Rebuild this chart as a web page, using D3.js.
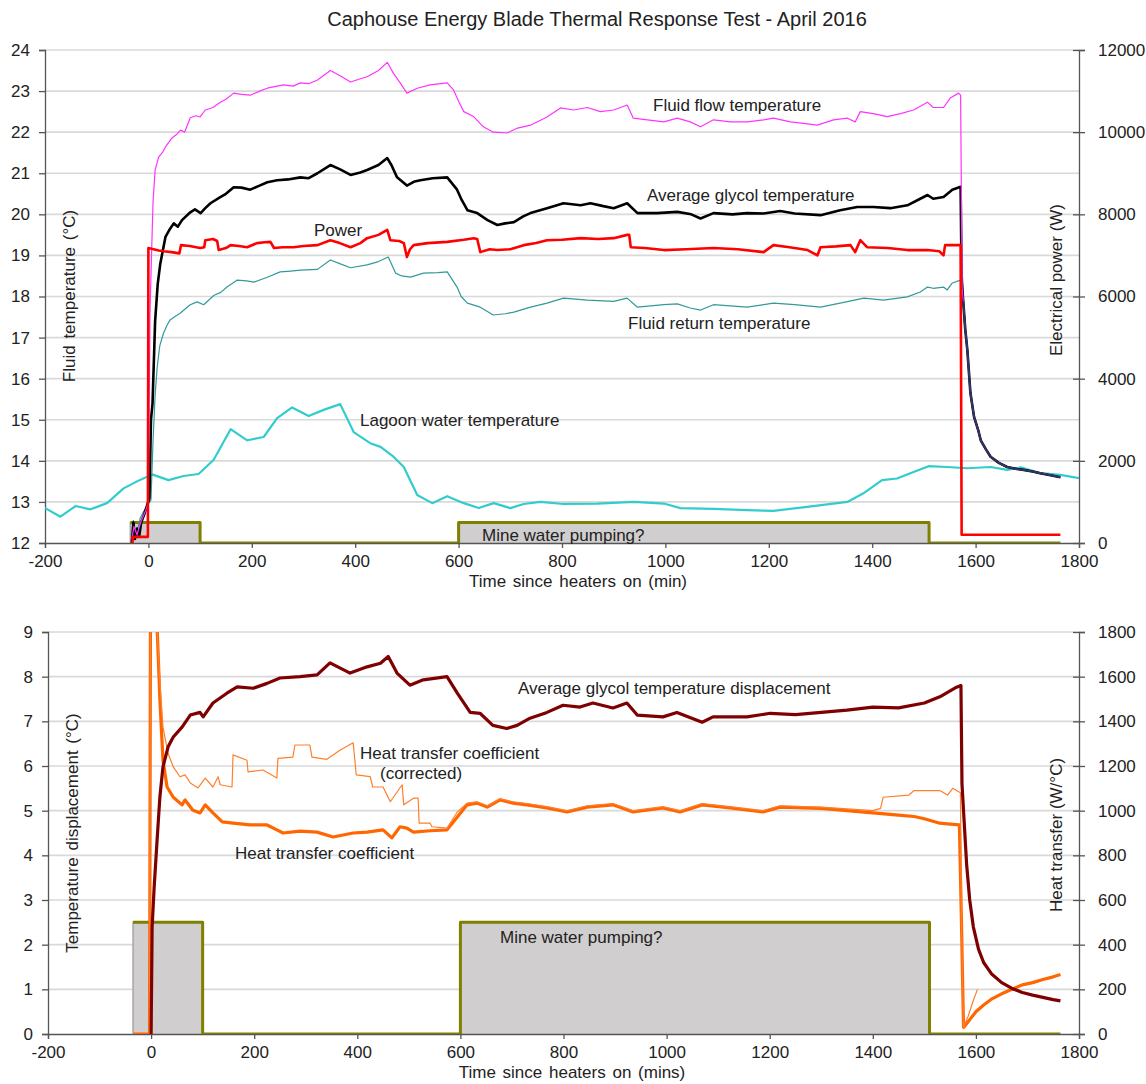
<!DOCTYPE html>
<html lang="en">
<head>
<meta charset="UTF-8">
<title>Caphouse Energy Blade Thermal Response Test</title>
<script src="https://cdn.jsdelivr.net/npm/d3@7/dist/d3.min.js"></script>
<style>
  body { margin: 0; background: #fff; }
  svg { font-family: "Liberation Sans", Arial, sans-serif; }
  .tick text { font-size: 17px; fill: #222; }
  .lbl { font-size: 17px; fill: #222; }
</style>
</head>
<body>
<svg id="chart" width="1146" height="1084"></svg>
<script>
// ---- data: [time since heaters on (min), value] ----
const xTicks = [-200, 0, 200, 400, 600, 800, 1000, 1200, 1400, 1600, 1800];

// shared cool-down after heaters off (degC)
const coolDown = [[1576,17.9],[1580,17.2],[1584,16.7],[1590,15.65],[1597,15.07],[1605,14.75],[1610,14.5],
  [1620,14.28],[1629,14.1],[1645,13.95],[1661,13.85],[1680,13.8],[1693,13.78],[1710,13.74],[1725,13.7],
  [1745,13.65],[1764,13.6]];

const flowTemp = [[-32,12.1],[-28,12.4],[-22,12.2],[-15,12.5],[-5,12.8],[0,13.0],[3,17.55],[6,19.0],[9,20.3],
  [13,21.08],[20,21.4],[27,21.5],[33,21.64],[45,21.85],[55,21.95],[62,22.05],[70,22.0],[81,22.35],[92,22.4],
  [100,22.37],[110,22.54],[125,22.6],[139,22.73],[150,22.8],[165,22.95],[180,22.92],[197,22.9],[215,23.0],
  [230,23.07],[261,23.15],[280,23.12],[294,23.2],[310,23.18],[327,23.27],[352,23.5],[370,23.38],[391,23.22],
  [410,23.3],[423,23.35],[445,23.5],[462,23.7],[474,23.43],[487,23.2],[500,22.95],[520,23.07],[545,23.15],
  [578,23.2],[590,23.03],[600,22.75],[610,22.5],[629,22.38],[648,22.13],[667,22.0],[694,21.98],[714,22.1],
  [739,22.17],[771,22.37],[797,22.59],[823,22.54],[849,22.6],[874,22.5],[900,22.54],[926,22.66],[938,22.34],
  [965,22.3],[997,22.25],[1023,22.34],[1048,22.25],[1068,22.13],[1093,22.3],[1126,22.25],[1158,22.25],
  [1190,22.3],[1209,22.34],[1242,22.25],[1275,22.2],[1294,22.17],[1325,22.3],[1352,22.34],[1367,22.25],
  [1377,22.5],[1402,22.45],[1429,22.38],[1455,22.45],[1480,22.54],[1507,22.73],[1518,22.6],[1538,22.6],
  [1551,22.83],[1567,22.95],[1571,22.9],[1574,18.2]];

const glycolTemp = [[-32,12.0],[-29,12.5],[-26,12.1],[-22,12.35],[-18,12.15],[-14,12.5],[-8,12.7],[-3,12.9],
  [2,13.1],[5,15.0],[8,15.4],[13,17.4],[18,18.3],[23,18.8],[33,19.45],[42,19.65],[49,19.78],[57,19.7],
  [65,19.86],[81,20.05],[90,20.12],[101,20.03],[110,20.15],[120,20.27],[139,20.42],[150,20.5],[165,20.66],
  [180,20.65],[197,20.6],[215,20.7],[230,20.78],[249,20.83],[270,20.85],[294,20.9],[310,20.88],[327,21.0],
  [352,21.2],[370,21.1],[391,20.96],[410,21.02],[423,21.08],[445,21.2],[462,21.37],[470,21.2],[481,20.9],
  [500,20.7],[515,20.8],[526,20.83],[550,20.88],[578,20.9],[597,20.6],[606,20.35],[617,20.1],[636,20.03],
  [656,19.86],[675,19.74],[690,19.78],[707,19.81],[725,19.95],[739,20.03],[771,20.15],[803,20.27],
  [836,20.22],[855,20.27],[880,20.2],[900,20.15],[926,20.27],[946,20.03],[984,20.03],[1023,20.06],
  [1050,20.0],[1068,19.9],[1093,20.03],[1130,20.0],[1158,20.03],[1190,20.02],[1222,20.08],[1250,20.02],
  [1300,19.98],[1338,20.1],[1371,20.18],[1402,20.18],[1435,20.15],[1468,20.22],[1493,20.38],[1507,20.47],
  [1518,20.38],[1538,20.42],[1555,20.6],[1571,20.67],[1573,18.4]];

const returnTemp = [[-32,12.0],[-29,12.55],[-26,12.2],[-21,12.3],[-16,12.6],[-10,12.75],[0,12.95],[5,13.05],
  [9,14.5],[13,15.6],[17,16.28],[22,16.8],[29,17.1],[36,17.3],[42,17.43],[50,17.5],[62,17.6],[75,17.74],
  [81,17.8],[94,17.87],[107,17.8],[127,18.03],[140,18.1],[152,18.23],[172,18.4],[190,18.38],[204,18.35],
  [230,18.47],[255,18.6],[275,18.62],[294,18.64],[327,18.66],[352,18.89],[370,18.8],[391,18.7],[423,18.77],
  [445,18.85],[464,18.96],[478,18.57],[490,18.5],[507,18.47],[532,18.57],[560,18.58],[578,18.6],[597,18.23],
  [605,18.0],[617,17.84],[642,17.74],[667,17.55],[690,17.58],[707,17.62],[739,17.74],[771,17.84],[803,17.96],
  [849,17.91],[900,17.88],[926,17.96],[946,17.74],[997,17.8],[1023,17.82],[1048,17.72],[1068,17.67],
  [1093,17.8],[1158,17.74],[1209,17.84],[1250,17.8],[1300,17.74],[1338,17.84],[1384,17.96],[1422,17.91],
  [1468,17.99],[1493,18.11],[1507,18.23],[1518,18.2],[1538,18.23],[1545,18.16],[1555,18.33],[1571,18.4],
  [1575,18.45]];

const lagoonTemp = [[-200,12.85],[-170,12.64],[-141,12.9],[-112,12.82],[-80,12.97],[-48,13.33],[-22,13.5],
  [7,13.67],[39,13.53],[68,13.63],[97,13.68],[126,14.02],[159,14.77],[191,14.5],[223,14.58],[249,15.04],
  [278,15.3],[310,15.09],[339,15.24],[371,15.38],[397,14.7],[429,14.43],[449,14.34],[474,14.1],[494,13.85],
  [520,13.17],[549,12.97],[578,13.14],[610,12.97],[639,12.85],[668,12.97],[700,12.85],[726,12.95],
  [758,13.0],[803,12.95],[868,12.96],[939,13.0],[997,12.96],[1029,12.85],[1093,12.83],[1158,12.8],
  [1209,12.78],[1274,12.88],[1352,13.0],[1383,13.21],[1419,13.53],[1448,13.57],[1480,13.73],[1509,13.87],
  [1545,13.85],[1584,13.82],[1629,13.85],[1661,13.78],[1687,13.84],[1725,13.7],[1764,13.66],[1800,13.58]];

// electrical power (W)
const power = [[-31,0],[-30,150],[-1,150],[0,7180],[10,7150],[20,7120],[30,7100],[45,7080],[60,7050],
  [63,7250],[80,7230],[100,7180],[108,7200],[110,7370],[125,7400],[133,7350],[136,7130],[150,7180],
  [159,7250],[175,7230],[191,7200],[210,7300],[225,7320],[236,7330],[243,7180],[260,7200],[281,7200],
  [300,7230],[327,7250],[352,7370],[370,7300],[391,7200],[410,7300],[423,7420],[445,7500],[462,7620],
  [468,7370],[485,7350],[494,7300],[500,6960],[506,7150],[513,7250],[540,7300],[578,7330],[610,7380],
  [629,7420],[636,7400],[642,7080],[660,7150],[675,7130],[700,7150],[726,7250],[750,7300],[771,7370],
  [800,7380],[836,7420],[870,7400],[900,7420],[926,7500],[930,7500],[933,7200],[960,7180],[997,7130],
  [1040,7150],[1093,7180],[1140,7150],[1190,7080],[1209,7250],[1240,7200],[1275,7130],[1294,7000],
  [1300,7200],[1330,7220],[1358,7250],[1367,7080],[1377,7370],[1390,7200],[1430,7180],[1468,7130],
  [1507,7130],[1530,7100],[1538,7000],[1541,7250],[1571,7250],[1573,200],[1764,200]];

// mine water pumping indicator (plotted at 500 on the right-hand axis)
const pumping = [[-35,500],[100,500],[100,0],[600,0],[600,500],[1510,500],[1510,0],[1764,0]];

// lower panel: glycol temperature displacement (degC)
const displacement = [[0,0],[2,2.4],[6,3.3],[12,4.41],[17,5.3],[23,5.98],[33,6.43],[43,6.65],[60,6.87],
  [76,7.14],[95,7.2],[101,7.1],[120,7.41],[147,7.63],[167,7.77],[198,7.74],[225,7.85],[250,7.97],[289,8.0],
  [322,8.04],[347,8.31],[386,8.08],[419,8.22],[445,8.3],[460,8.45],[477,8.08],[502,7.81],[528,7.93],
  [574,8.0],[594,7.63],[619,7.2],[638,7.18],[663,6.91],[690,6.84],[710,6.91],[735,7.07],[768,7.2],
  [799,7.36],[832,7.32],[857,7.41],[896,7.3],[923,7.41],[943,7.14],[993,7.1],[1020,7.2],[1069,6.98],
  [1090,7.1],[1156,7.1],[1201,7.18],[1250,7.15],[1300,7.2],[1350,7.25],[1400,7.32],[1450,7.3],[1500,7.41],
  [1530,7.55],[1560,7.75],[1571,7.8],[1573,5.6],[1577,4.8],[1582,3.8],[1588,3.0],[1595,2.4],[1605,1.9],
  [1615,1.6],[1630,1.35],[1650,1.15],[1670,1.02],[1690,0.93],[1710,0.87],[1730,0.82],[1750,0.77],[1764,0.74]];

// heat transfer coefficient (W/degC)
const htc = [[-35,0],[-20,0],[-3,0],[-1,2100],[10,2100],[12,1800],[17,1500],[23,1226],[31,1106],[43,1060],
  [60,1026],[66,1048],[81,1002],[95,990],[105,1026],[120,990],[138,950],[159,944],[192,936],[225,936],
  [244,914],[256,900],[289,908],[322,904],[353,882],[392,900],[419,904],[450,914],[467,878],[483,928],
  [496,922],[509,904],[541,910],[574,914],[594,972],[613,1026],[632,1034],[652,1016],[677,1048],[702,1034],
  [729,1026],[768,1012],[807,994],[846,1016],[896,1026],[935,994],[993,1012],[1026,994],[1069,1026],
  [1123,1012],[1187,994],[1220,1016],[1300,1010],[1350,1000],[1400,990],[1450,980],[1480,974],[1500,964],
  [1530,944],[1550,940],[1568,936],[1572,500],[1576,30],[1580,40],[1590,70],[1600,100],[1615,130],
  [1630,156],[1650,180],[1670,200],[1690,220],[1710,230],[1730,244],[1750,256],[1764,266]];

const htcCorrected = [[-3,0],[-1,2100],[10,2100],[12,1800],[17,1580],[23,1374],[33,1256],[43,1196],
  [56,1152],[66,1160],[76,1124],[91,1102],[105,1146],[120,1106],[130,1152],[134,1116],[157,1106],[159,1250],
  [186,1226],[188,1174],[217,1182],[244,1146],[246,1234],[275,1240],[279,1294],[308,1294],[312,1240],
  [341,1230],[367,1272],[392,1304],[398,1160],[425,1152],[430,1106],[450,1106],[464,1040],[487,1116],
  [490,1026],[509,1056],[518,1056],[520,944],[541,944],[545,928],[574,922],[594,994],[613,1034],[632,1040],
  [652,1022],[677,1054],[702,1040],[729,1032],[768,1018],[807,1000],[846,1022],[896,1032],[935,1000],
  [993,1018],[1026,1000],[1069,1032],[1123,1018],[1187,1000],[1220,1022],[1300,1016],[1350,1008],
  [1400,1000],[1415,1010],[1420,1060],[1470,1070],[1480,1090],[1530,1090],[1545,1070],[1555,1100],
  [1570,1080],[1572,500],[1576,30],[1585,80],[1595,150],[1603,200]];

// ---- drawing ----
const svg = d3.select("#chart");
const fmt = d => String(d);

svg.append("text")
  .attr("x", 597).attr("y", 26)
  .attr("text-anchor", "middle")
  .style("font-size", "20px").style("fill", "#222")
  .text("Caphouse Energy Blade Thermal Response Test - April 2016");

function panel(opts) {
  const g = svg.append("g");
  const x = d3.scaleLinear().domain([-200, 1800]).range([opts.left, opts.right]);
  const yL = d3.scaleLinear().domain(opts.yLeft).range([opts.bottom, opts.top]);
  const yR = d3.scaleLinear().domain(opts.yRight).range([opts.bottom, opts.top]);

  // gridlines
  g.append("g").selectAll("line")
    .data(opts.leftTicks.slice(1))
    .join("line")
    .attr("x1", opts.left).attr("x2", opts.right)
    .attr("y1", d => yL(d)).attr("y2", d => yL(d))
    .attr("stroke", "#d9d9d9").attr("stroke-width", 1.6);

  // left axis
  const ax = g.append("g").attr("transform", "translate(" + opts.left + ",0)")
    .call(d3.axisLeft(yL).tickValues(opts.leftTicks).tickFormat(fmt)
      .tickSizeOuter(0).tickSize(6).tickPadding(9));
  // right axis
  const ar = g.append("g").attr("transform", "translate(" + opts.right + ",0)")
    .call(d3.axisRight(yR).tickValues(opts.rightTicks).tickFormat(fmt)
      .tickSizeOuter(0).tickSize(6).tickPadding(13));
  ar.selectAll(".tick line").attr("x1", -6);
  // x axis
  const axx = g.append("g").attr("transform", "translate(0," + opts.bottom + ")")
    .call(d3.axisBottom(x).tickValues(xTicks).tickFormat(fmt)
      .tickSizeOuter(0).tickSize(5).tickPadding(7));
  [ax, ar, axx].forEach(a => {
    a.select(".domain").attr("stroke", "#555").attr("stroke-width", 1.3);
    a.selectAll(".tick line").attr("stroke", "#555").attr("stroke-width", 1.3);
  });

  const clipId = "clip" + opts.top;
  svg.append("clipPath").attr("id", clipId)
    .append("rect").attr("x", opts.left).attr("y", opts.top)
    .attr("width", opts.right - opts.left).attr("height", opts.bottom - opts.top);
  const plot = g.append("g").attr("clip-path", "url(#" + clipId + ")");

  // pumping grey area (olive step line is drawn on top later)
  const boxes = [pumping.slice(0, 2), pumping.slice(4, 6)];
  plot.selectAll(".pump").data(boxes).join("path")
    .attr("d", d3.area().x(d => x(d[0])).y0(yR(0)).y1(d => yR(d[1])))
    .attr("fill", "#d0cece").attr("stroke", "#a6a6a6").attr("stroke-width", 1.5);

  g.append("text").attr("class", "lbl")
    .attr("x", opts.axisTitleX).attr("y", opts.bottom + 44)
    .attr("text-anchor", "middle").style("word-spacing", "2px").text(opts.xTitle);
  g.append("text").attr("class", "lbl")
    .attr("transform", "translate(" + (opts.left + 30) + "," + opts.leftTitleY + ") rotate(-90)")
    .attr("text-anchor", "middle").style("word-spacing", "2px").text(opts.yLeftTitle);
  g.append("text").attr("class", "lbl")
    .attr("transform", "translate(" + (opts.right - 17) + "," + opts.rightTitleY + ") rotate(-90)")
    .attr("text-anchor", "middle").text(opts.yRightTitle);

  return { g, plot, x, yL, yR };
}

function drawLine(p, data, y, color, width) {
  p.plot.append("path")
    .datum(data)
    .attr("d", d3.line().x(d => p.x(d[0])).y(d => y(d[1])))
    .attr("fill", "none").attr("stroke", color).attr("stroke-width", width)
    .attr("stroke-linejoin", "round");
}

function label(p, text, x, y) {
  p.g.append("text").attr("class", "lbl")
    .attr("x", x).attr("y", y).text(text);
}

// upper panel
const upper = panel({
  left: 45, right: 1079, top: 50, bottom: 543,
  yLeft: [12, 24], yRight: [0, 12000],
  leftTicks: d3.range(12, 25), rightTicks: d3.range(0, 12001, 2000),
  xTitle: "Time since heaters on (min)", axisTitleX: 578,
  yLeftTitle: "Fluid temperature (°C)", leftTitleY: 296,
  yRightTitle: "Electrical power (W)", rightTitleY: 280
});
drawLine(upper, pumping, upper.yR, "#808000", 3);
drawLine(upper, lagoonTemp, upper.yL, "#33cccc", 2.2);
drawLine(upper, returnTemp.concat(coolDown), upper.yL, "#339999", 1.2);
drawLine(upper, glycolTemp.concat(coolDown), upper.yL, "#000000", 2.6);
drawLine(upper, flowTemp.concat(coolDown), upper.yL, "#ff33ff", 1.2);
drawLine(upper, coolDown, upper.yL, "#203864", 1.6);
drawLine(upper, power, upper.yR, "#ff0000", 2.6);

label(upper, "Fluid flow temperature", 653, 111);
label(upper, "Average glycol temperature", 647, 201);
label(upper, "Power", 314, 236);
label(upper, "Fluid return temperature", 628, 329);
label(upper, "Lagoon water temperature", 360, 426);
label(upper, "Mine water pumping?", 482, 541);

// lower panel
const lower = panel({
  left: 48, right: 1079, top: 632, bottom: 1034,
  yLeft: [0, 9], yRight: [0, 1800],
  leftTicks: d3.range(0, 10), rightTicks: d3.range(0, 1801, 200),
  xTitle: "Time since heaters on (mins)", axisTitleX: 572,
  yLeftTitle: "Temperature displacement (°C)", leftTitleY: 833,
  yRightTitle: "Heat transfer (W/°C)", rightTitleY: 835
});
drawLine(lower, pumping, lower.yR, "#808000", 3);
drawLine(lower, htc, lower.yR, "#ff6600", 3.2);
drawLine(lower, htcCorrected, lower.yR, "#ff7f2a", 1.2);
drawLine(lower, displacement, lower.yL, "#7f0000", 3.2);

label(lower, "Average glycol temperature displacement", 518, 694);
label(lower, "Heat transfer coefficient", 360, 759);
label(lower, "(corrected)", 380, 779);
label(lower, "Heat transfer coefficient", 235, 859);
label(lower, "Mine water pumping?", 500, 943);
</script>
</body>
</html>
